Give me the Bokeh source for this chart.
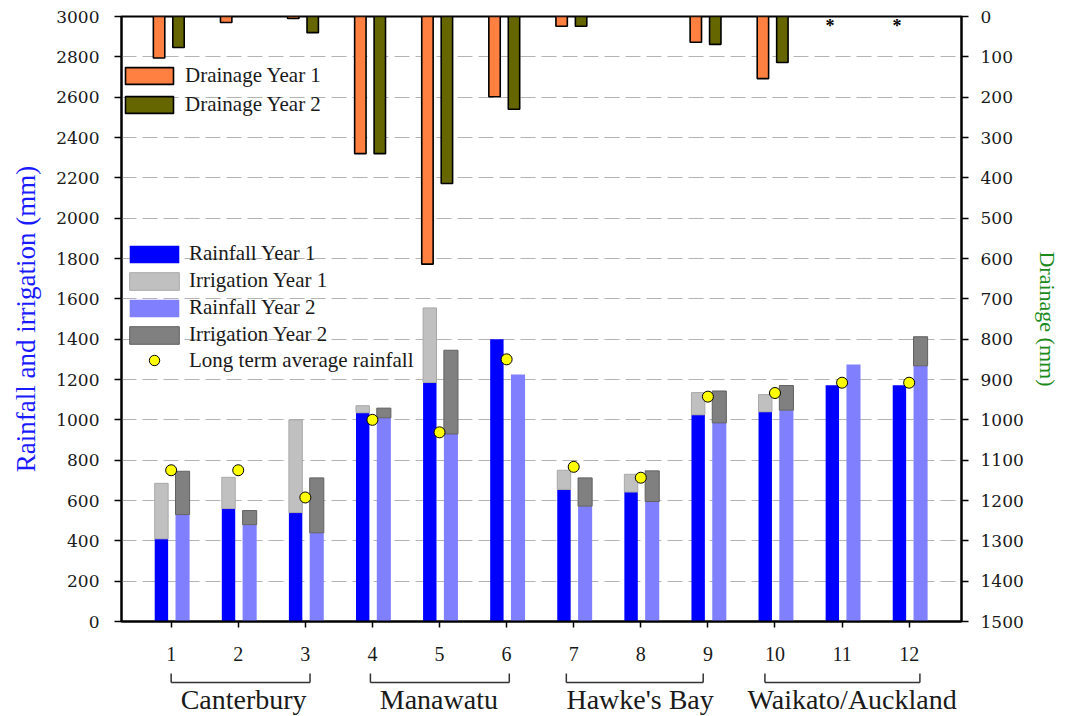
from bokeh.plotting import figure
from bokeh.models import Range1d, LinearAxis, FixedTicker, Legend, LegendItem
from bokeh.layouts import column
from bokeh.embed import file_html
from bokeh.resources import INLINE
from bokeh.core.properties import value

# ---------------- data ----------------
sites = [1, 2, 3, 4, 5, 6, 7, 8, 9, 10, 11, 12]
rain_y1 = [410, 560, 540, 1035, 1185, 1400, 655, 642, 1025, 1040, 1172, 1172]
irr_y1 = [275, 155, 460, 35, 370, 0, 95, 88, 110, 85, 0, 0]
rain_y2 = [530, 480, 440, 1010, 930, 1225, 572, 595, 985, 1048, 1275, 1268]
irr_y2 = [215, 70, 272, 48, 415, 0, 140, 152, 158, 122, 0, 144]
lta_rain = [750, 750, 615, 1000, 938, 1300, 767, 713, 1115, 1133, 1184, 1184]
drain_y1 = [103, 15, 5, 340, 614, 199, 24, 0, 64, 154, None, None]
drain_y2 = [77, 0, 40, 340, 414, 230, 24, 0, 69, 114, None, None]
regions = ["Canterbury", "Manawatu", "Hawke's Bay", "Waikato/Auckland"]
region_sites = [(1, 3), (4, 6), (7, 9), (10, 12)]
left_ticks = list(range(0, 3001, 200))
right_ticks = list(range(0, 1501, 100))

# ---------------- layout / style constants ----------------
W = 1065
SERIF = "Liberation Serif"
OFF_R1, OFF_R2, OFF_D1, OFF_D2 = -0.145, 0.17, -0.18, 0.11
BW_R, BW_D = 0.2, 0.17
C_RAIN1, C_IRR1, C_RAIN2, C_IRR2 = "#0000ff", "#c0c0c0", "#8080ff", "#808080"
C_D1, C_D2 = "#ff8040", "#666600"
ML, MR = 121, 104

p = figure(width=W, height=671, x_range=Range1d(0.26, 12.78), y_range=Range1d(0, 3000),
           output_backend="svg", toolbar_location=None,
           min_border_left=ML, min_border_right=MR, min_border_top=16, min_border_bottom=50)
p.extra_y_ranges = {"drain": Range1d(1500, 0)}
p.outline_line_color = "black"
p.outline_line_width = 2
p.xgrid.visible = False
p.ygrid.ticker = FixedTicker(ticks=left_ticks)
p.ygrid.grid_line_color = "#b4b4b4"
p.ygrid.grid_line_dash = "15 6"
p.ygrid.grid_line_width = 1

# rainfall / irrigation
x1 = [s + OFF_R1 for s in sites]
x2 = [s + OFF_R2 for s in sites]
r_rain1 = p.vbar(x=x1, bottom=0, top=rain_y1, width=BW_R, fill_color=C_RAIN1, line_color=None)
i1 = [k for k in range(len(sites)) if irr_y1[k] > 0]
r_irr1 = p.vbar(x=[x1[k] for k in i1], bottom=[rain_y1[k] for k in i1],
                top=[rain_y1[k] + irr_y1[k] for k in i1], width=BW_R,
                fill_color=C_IRR1, line_color="#a8a8a8", line_width=1)
r_rain2 = p.vbar(x=x2, bottom=0, top=rain_y2, width=BW_R + 0.01, fill_color=C_RAIN2, line_color=None)
i2 = [k for k in range(len(sites)) if irr_y2[k] > 0]
r_irr2 = p.vbar(x=[x2[k] for k in i2], bottom=[rain_y2[k] for k in i2],
                top=[rain_y2[k] + irr_y2[k] for k in i2], width=BW_R + 0.01,
                fill_color=C_IRR2, line_color="#606060", line_width=1)

# drainage (right, inverted axis)
d1 = [k for k in range(len(sites)) if drain_y1[k]]
d2 = [k for k in range(len(sites)) if drain_y2[k]]
r_d1 = p.vbar(x=[sites[k] + OFF_D1 for k in d1], bottom=0, top=[drain_y1[k] for k in d1],
              width=BW_D, fill_color=C_D1, line_color="black", line_width=1.6, y_range_name="drain")
r_d2 = p.vbar(x=[sites[k] + OFF_D2 for k in d2], bottom=0, top=[drain_y2[k] for k in d2],
              width=BW_D, fill_color=C_D2, line_color="black", line_width=1.6, y_range_name="drain")
nd = [k for k in range(len(sites)) if drain_y1[k] is None]
p.text(x=[sites[k] + OFF_D1 for k in nd], y=[23] * len(nd), text=["*"] * len(nd),
       y_range_name="drain", text_font=value(SERIF), text_font_size="18px",
       text_font_style="bold", text_align="center", text_baseline="middle", text_color="black")

r_lta = p.scatter(x=sites, y=lta_rain, size=11, fill_color="#ffff00", line_color="black", line_width=1)

# axes
p.xaxis.ticker = FixedTicker(ticks=sites)
p.xaxis.major_label_overrides = {s: str(s) for s in sites}
p.yaxis.ticker = FixedTicker(ticks=left_ticks)
ax_r = LinearAxis(y_range_name="drain", ticker=FixedTicker(ticks=right_ticks))
p.add_layout(ax_r, "right")

for ax in p.axis:
    ax.axis_line_width = 2
    ax.axis_line_color = "black"
    ax.major_tick_line_width = 1.5
    ax.major_tick_line_color = "black"
    ax.major_tick_in = 0
    ax.major_tick_out = 7
    ax.minor_tick_line_color = None
    ax.major_label_text_color = "#1a1a1a"

p.xaxis.major_tick_out = 6
p.xaxis.major_label_text_font = SERIF
p.xaxis.major_label_text_font_size = "20px"
p.xaxis.major_label_standoff = 19

for ax in [p.yaxis[0], ax_r]:
    ax.major_label_text_font = "DejaVu Serif"
    ax.major_label_text_font_size = "17px"
p.yaxis[0].major_label_standoff = 15
ax_r.major_label_standoff = 12

p.yaxis[0].axis_label = "Rainfall and irrigation (mm)"
p.yaxis[0].axis_label_text_font = SERIF
p.yaxis[0].axis_label_text_font_size = "27px"
p.yaxis[0].axis_label_text_font_style = "normal"
p.yaxis[0].axis_label_text_color = "#1a1aff"
p.yaxis[0].axis_label_standoff = 12

ax_r.axis_label = "Drainage (mm)"
ax_r.axis_label_text_font = SERIF
ax_r.axis_label_text_font_size = "22px"
ax_r.axis_label_text_font_style = "normal"
ax_r.axis_label_text_color = "#1a8a1a"
ax_r.axis_label_standoff = 8

# legends
def style_legend(leg, gw, gh, standoff, spacing):
    leg.background_fill_alpha = 0
    leg.border_line_alpha = 0
    leg.padding = 0
    leg.margin = 0
    leg.glyph_width = gw
    leg.glyph_height = gh
    leg.label_height = 20
    leg.label_standoff = standoff
    leg.label_text_font = SERIF
    leg.label_text_font_size = "21px"
    leg.label_text_color = "#1a1a1a"
    leg.spacing = spacing

leg_d = Legend(items=[LegendItem(label="Drainage Year 1", renderers=[r_d1]),
                      LegendItem(label="Drainage Year 2", renderers=[r_d2])],
               location=(-2, 504))
style_legend(leg_d, 60, 21, 6, 4)
p.add_layout(leg_d, "center")

leg_r = Legend(items=[LegendItem(label="Rainfall Year 1", renderers=[r_rain1]),
                      LegendItem(label="Irrigation Year 1", renderers=[r_irr1]),
                      LegendItem(label="Rainfall Year 2", renderers=[r_rain2]),
                      LegendItem(label="Irrigation Year 2", renderers=[r_irr2])],
               location=(2, 274))
style_legend(leg_r, 62, 22, 4, 2)
p.add_layout(leg_r, "center")

leg_l = Legend(items=[LegendItem(label="Long term average rainfall", renderers=[r_lta])],
               location=(2, 248))
style_legend(leg_l, 62, 26, 4, 0)
p.add_layout(leg_l, "center")

# ---------------- region brackets below the axis ----------------
BH = 716 - 671
b = figure(width=W, height=BH, x_range=p.x_range, y_range=Range1d(BH, 0),
           output_backend="svg", toolbar_location=None,
           x_axis_location=None, y_axis_location=None,
           min_border_left=ML, min_border_right=MR, min_border_top=0, min_border_bottom=0)
b.grid.visible = False
b.outline_line_color = None
BR_PAD = [(0.0, 0.07), (-0.03, 0.04), (-0.11, -0.07), (-0.15, 0.16)]
TXT_OFF = [0.08, -0.01, -0.01, 0.15]
bx0 = [g[0] + pd[0] for g, pd in zip(region_sites, BR_PAD)]
bx1 = [g[1] + pd[1] for g, pd in zip(region_sites, BR_PAD)]
Y_TOP, Y_BOT, Y_TXT = 2, 11, 28
b.segment(x0=bx0, y0=[Y_BOT] * 4, x1=bx1, y1=[Y_BOT] * 4, line_color="#333333", line_width=1.5)
b.segment(x0=bx0, y0=[Y_TOP] * 4, x1=bx0, y1=[Y_BOT] * 4, line_color="#333333", line_width=1.5)
b.segment(x0=bx1, y0=[Y_TOP] * 4, x1=bx1, y1=[Y_BOT] * 4, line_color="#333333", line_width=1.5)
tx = [(g[0] + g[1]) / 2 + o for g, o in zip(region_sites, TXT_OFF)]
b.text(x=tx, y=[Y_TXT] * 4, text=regions, text_font=value(SERIF), text_font_size="28px",
       text_align="center", text_baseline="middle", text_color="#1a1a1a")

layout = column(p, b, spacing=0)
open("out.html", "w").write(file_html(layout, INLINE))
